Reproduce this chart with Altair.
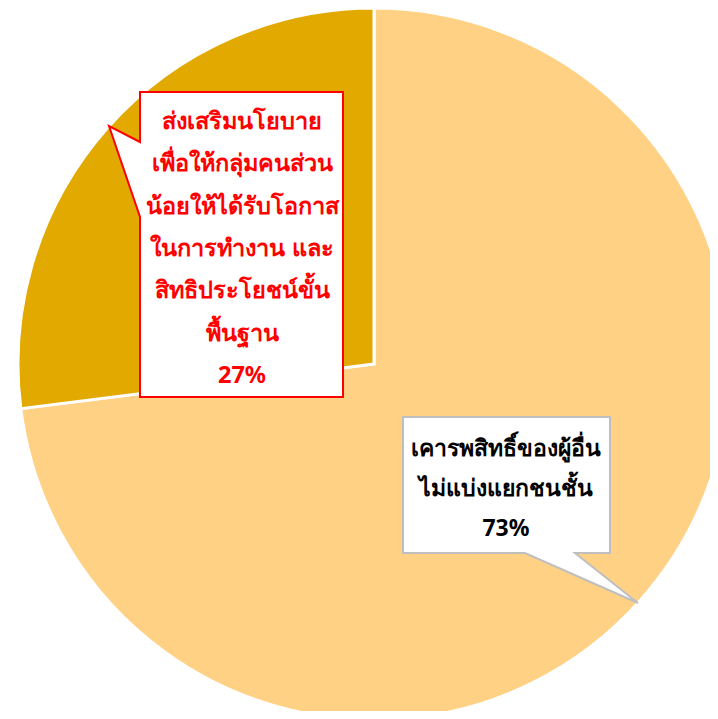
import altair as alt
import pandas as pd

# ---- data ----
categories = ["เคารพสิทธิ์ของผู้อื่น ไม่แบ่งแยกชนชั้น",
              "ส่งเสริมนโยบายเพื่อให้กลุ่มคนส่วนน้อยให้ได้รับโอกาสในการทำงาน และสิทธิประโยชน์ขั้นพื้นฐาน"]
values = [73, 27]
order = [1, 2]
colors = ["#FFD185", "#E2A900"]

label_lines_major = ["เคารพสิทธิ์ของผู้อื่น", "ไม่แบ่งแยกชนชั้น", "73%"]
label_lines_minor = ["ส่งเสริมนโยบาย", "เพื่อให้กลุ่มคนส่วน", "น้อยให้ได้รับโอกาส",
                     "ในการทำงาน และ", "สิทธิประโยชน์ขั้น", "พื้นฐาน", "27%"]

df = pd.DataFrame({"category": categories, "value": values, "order": order})

W, H = 702, 703
CX, CY, R = 366, 356, 356
FONT = "Noto Sans"

pie = alt.Chart(df).mark_arc(outerRadius=R, stroke="white", strokeWidth=3).encode(
    theta=alt.Theta("value:Q", stack=True),
    order=alt.Order("order:Q"),
    color=alt.Color("category:N", scale=alt.Scale(domain=categories, range=colors), legend=None),
    x=alt.value(CX), y=alt.value(CY),
)

proj = alt.Projection(type="identity", scale=1, translate=[0, 0])

def callout(points, stroke):
    feat = {"type": "Feature", "properties": {},
            "geometry": {"type": "Polygon", "coordinates": [points + [points[0]]]}}
    return alt.Chart(alt.Data(values=[feat])).mark_geoshape(
        fill="white", stroke=stroke, strokeWidth=2
    ).project(**proj.to_dict())

red_box = callout([[132, 84], [335, 84], [335, 389], [132, 389], [132, 209], [101, 118], [132, 134]], "#FF0000")
gray_box = callout([[395, 409], [602, 409], [602, 545], [567, 545], [630, 595], [517, 545], [395, 545]], "#BFBFBF")

txt_minor = alt.Chart(pd.DataFrame({"t": ["\n".join(label_lines_minor)]})).mark_text(
    font=FONT, fontSize=23.5, fontWeight="bold", color="#FF0000", lineHeight=42.3,
    align="center", baseline="middle", lineBreak="\n"
).encode(text="t:N", x=alt.value(234), y=alt.value(114))

txt_major = alt.Chart(pd.DataFrame({"t": ["\n".join(label_lines_major)]})).mark_text(
    font=FONT, fontSize=23, fontWeight="bold", color="#000000", lineHeight=40,
    align="center", baseline="middle", lineBreak="\n"
).encode(text="t:N", x=alt.value(498), y=alt.value(441))

chart = alt.layer(pie, red_box, gray_box, txt_minor, txt_major).properties(
    width=W, height=H, padding=0, autosize="none"
).configure_view(stroke=None)

chart.save("out.html", embed_options={"renderer": "svg", "actions": False})
